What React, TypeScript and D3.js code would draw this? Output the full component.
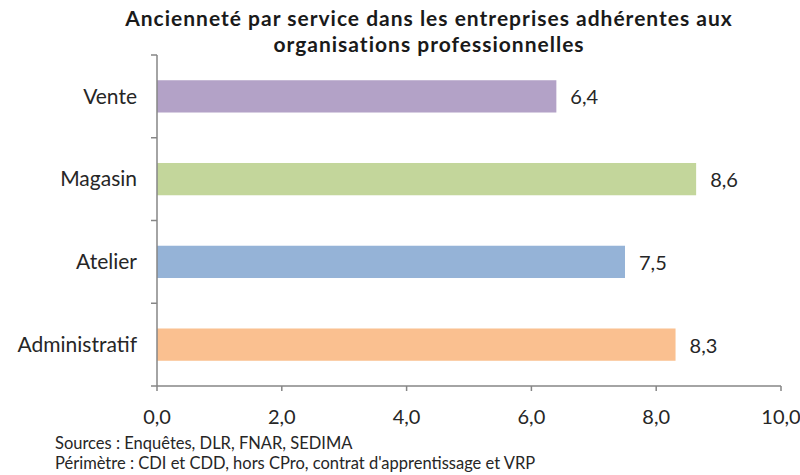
import React from "react";
import * as d3 from "d3";

const categories = ["Vente", "Magasin", "Atelier", "Administratif"];
const values = [6.4, 8.64, 7.5, 8.31];
const colors = ["#B3A2C7", "#C3D69B", "#95B3D7", "#FAC090"];
const xTicks = [0, 2, 4, 6, 8, 10];
const titleLines = [
  "Ancienneté par service dans les entreprises adhérentes aux",
  "organisations professionnelles",
];
const footnotes = [
  "Sources : Enquêtes, DLR, FNAR, SEDIMA",
  "Périmètre : CDI et CDD, hors CPro, contrat d'apprentissage et VRP",
];

const W = 800;
const H = 475;
const left = 157;
const right = 781;
const top = 55;
const bottom = 386;
const font = "Lato, 'Open Sans', sans-serif";
const axisColor = "#868686";

export default function App() {
  const x = d3.scaleLinear().domain([0, 10]).range([left, right]);
  const y = d3.scaleBand().domain(categories).range([top, bottom]).paddingInner(0.61).paddingOuter(0.305);
  const yb = d3.scaleBand().domain(categories).range([top, bottom]);
  const fmt = (v: number) => v.toFixed(1).replace(".", ",");
  const bounds = [top, ...categories.slice(1).map((c) => yb(c) as number), bottom];

  return (
    <svg width={W} height={H} style={{ position: "absolute", left: 0, top: 0, background: "#fff" }}>
      <rect width={W} height={H} fill="#fff" />
      {titleLines.map((t, i) => (
        <text key={i} x={429} y={26 + i * 26} textAnchor="middle" fontFamily={font} fontWeight="bold" fontSize={21} letterSpacing={1} fill="#1a1a1a">
          {t}
        </text>
      ))}
      {categories.map((c, i) => (
        <g key={c}>
          <rect x={x(0)} y={y(c)} width={x(values[i]) - x(0)} height={y.bandwidth()} fill={colors[i]} />
          <text x={x(values[i]) + 14} y={(y(c) as number) + y.bandwidth() / 2 + 1} dy="0.35em" fontFamily={font} fontSize={20} fill="#262626">
            {fmt(values[i])}
          </text>
          <text x={137} y={(y(c) as number) + y.bandwidth() / 2} dy="0.35em" textAnchor="end" fontFamily={font} fontSize={21} fill="#262626">
            {c}
          </text>
        </g>
      ))}
      <line x1={left} x2={left} y1={top} y2={bottom} stroke={axisColor} strokeWidth={1.5} />
      {bounds.map((b, i) => (
        <line key={i} x1={left - 6} x2={left} y1={b} y2={b} stroke={axisColor} strokeWidth={1.5} />
      ))}
      <line x1={left} x2={right} y1={bottom} y2={bottom} stroke={axisColor} strokeWidth={1.5} />
      {xTicks.map((t) => (
        <g key={t}>
          <line x1={x(t)} x2={x(t)} y1={bottom} y2={bottom + 5} stroke={axisColor} strokeWidth={1.5} />
          <text x={x(t)} y={417} dy="0.35em" textAnchor="middle" fontFamily={font} fontSize={20} fill="#262626">
            {fmt(t)}
          </text>
        </g>
      ))}
      {footnotes.map((f, i) => (
        <text key={i} x={55} y={449 + i * 20} fontFamily={font} fontSize={16.5} fill="#262626">
          {f}
        </text>
      ))}
    </svg>
  );
}
